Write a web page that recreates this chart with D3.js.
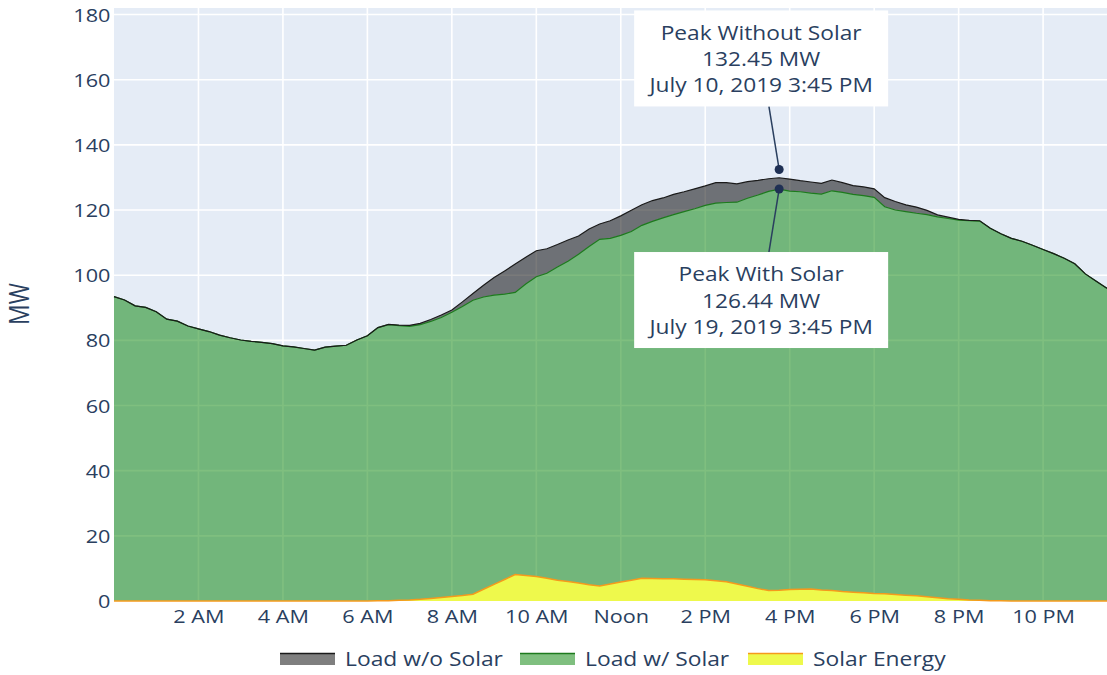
<!DOCTYPE html>
<html>
<head>
<meta charset="utf-8">
<script src="https://cdn.jsdelivr.net/npm/d3@7"></script>
<style>
  body{margin:0;background:#fff;}
  svg{display:block;font-family:"Open Sans",sans-serif;}
</style>
</head>
<body>
<svg id="chart" width="1107" height="675"></svg>
<script>
// 15 minute readings, 0:00 .. 23:45
const hours = d3.range(96).map(i => i / 4);

const loadNoSolar = [
  93.4, 92.4, 90.6, 90.1, 88.8, 86.5, 85.9, 84.4,
  83.5, 82.7, 81.6, 80.8, 80.1, 79.7, 79.4, 79.0,
  78.3, 78.0, 77.5, 77.0, 77.9, 78.2, 78.5, 80.1,
  81.4, 83.9, 84.9, 84.7, 84.6, 85.2, 86.4, 87.8,
  89.3, 91.8, 94.4, 96.9, 99.3, 101.3, 103.4, 105.5,
  107.5, 108.1, 109.4, 110.8, 112.0, 114.2, 115.7, 116.7,
  118.2, 119.9, 121.6, 122.9, 123.7, 124.8, 125.6, 126.5,
  127.4, 128.4, 128.4, 128.0, 128.7, 129.1, 129.6, 129.9,
  129.5, 129.0, 128.6, 128.2, 129.2, 128.4, 127.5, 127.1,
  126.5, 123.8, 122.6, 121.6, 120.9, 119.9, 118.5, 117.8,
  117.1, 116.8, 116.7, 114.4, 112.7, 111.3, 110.4, 109.2,
  107.9, 106.6, 105.2, 103.5, 100.4, 98.2, 96.1, 94.5
];

const loadWithSolar = [
  93.4, 92.4, 90.6, 90.1, 88.8, 86.5, 85.9, 84.4,
  83.5, 82.7, 81.6, 80.8, 80.1, 79.7, 79.4, 79.0,
  78.3, 78.0, 77.5, 77.0, 77.9, 78.2, 78.5, 80.1,
  81.4, 83.9, 84.8, 84.5, 84.3, 84.8, 85.8, 87.0,
  88.6, 90.4, 92.3, 93.3, 93.9, 94.2, 94.7, 97.3,
  99.5, 100.6, 102.5, 104.3, 106.4, 108.8, 111.0, 111.3,
  112.2, 113.4, 115.3, 116.5, 117.6, 118.6, 119.5, 120.4,
  121.4, 122.1, 122.3, 122.4, 123.6, 124.6, 125.7, 126.4,
  125.8, 125.6, 125.2, 124.9, 125.9, 125.4, 124.8, 124.4,
  123.9, 121.0, 120.0, 119.5, 119.0, 118.6, 117.9, 117.4,
  116.9, 116.7, 116.6, 114.4, 112.7, 111.3, 110.4, 109.2,
  107.9, 106.6, 105.2, 103.5, 100.4, 98.2, 96.1, 94.5
];

const solarEnergy = [
  0, 0, 0, 0, 0, 0, 0, 0,
  0, 0, 0, 0, 0, 0, 0, 0,
  0, 0, 0, 0, 0, 0, 0, 0,
  0, 0.05, 0.1, 0.2, 0.3, 0.5, 0.8, 1.1,
  1.4, 1.7, 2.1, 3.6, 5.1, 6.6, 8.1, 7.8,
  7.5, 7.0, 6.4, 6.0, 5.5, 5.0, 4.6, 5.2,
  5.8, 6.4, 7.0, 6.9, 6.8, 6.8, 6.7, 6.6,
  6.5, 6.2, 5.9, 5.2, 4.5, 3.8, 3.2, 3.3,
  3.5, 3.6, 3.7, 3.4, 3.2, 2.9, 2.7, 2.5,
  2.3, 2.2, 2.0, 1.8, 1.6, 1.3, 1.0, 0.7,
  0.5, 0.3, 0.2, 0.1, 0.05, 0, 0, 0,
  0, 0, 0, 0, 0, 0, 0, 0
];

const xTickHours = [2, 4, 6, 8, 10, 12, 14, 16, 18, 20, 22];
const xTickLabels = ["2 AM", "4 AM", "6 AM", "8 AM", "10 AM", "Noon", "2 PM", "4 PM", "6 PM", "8 PM", "10 PM"];
const yTicks = [0, 20, 40, 60, 80, 100, 120, 140, 160, 180];

const peakHours = [15.75, 15.75];
const peakValues = [132.45, 126.44];
const peakTitles = ["Peak Without Solar", "Peak With Solar"];
const peakDates = ["July 10, 2019 3:45 PM", "July 19, 2019 3:45 PM"];

const seriesNames = ["Load w/o Solar", "Load w/ Solar", "Solar Energy"];

const rows = hours.map((h, i) => ({h: h, wo: loadNoSolar[i], w: loadWithSolar[i], s: solarEnergy[i]}));

const textColor = "#2a3f5f";
const stretch = 1.165; // the picture's text runs wide
const svg = d3.select("#chart");

const plot = {left: 114, right: 1117, top: 8, bottom: 601};

const x = d3.scaleLinear().domain([0, 23.75]).range([plot.left, plot.right]);
const y = d3.scaleLinear().domain([0, 182]).range([plot.bottom, plot.top]);

svg.append("rect").attr("x", plot.left).attr("y", plot.top)
  .attr("width", plot.right - plot.left).attr("height", plot.bottom - plot.top)
  .attr("fill", "#e5ecf6");

// grid
svg.append("g").selectAll("line").data(yTicks).join("line")
  .attr("x1", plot.left).attr("x2", plot.right)
  .attr("y1", d => y(d)).attr("y2", d => y(d))
  .attr("stroke", "#fff").attr("stroke-width", d => d == 0 ? 2 : 1.6);
svg.append("g").selectAll("line").data(xTickHours).join("line")
  .attr("y1", plot.top).attr("y2", plot.bottom)
  .attr("x1", d => x(d)).attr("x2", d => x(d))
  .attr("stroke", "#fff").attr("stroke-width", 1.6);

// areas
const gapArea = d3.area().x(d => x(d.h)).y0(d => y(d.w)).y1(d => y(d.wo));
const loadArea = d3.area().x(d => x(d.h)).y0(y(0)).y1(d => y(d.w));
const solarArea = d3.area().x(d => x(d.h)).y0(y(0)).y1(d => y(d.s));

svg.append("path").datum(rows).attr("d", gapArea).attr("fill", "rgba(0,0,0,0.52)");
svg.append("path").datum(rows).attr("d", loadArea).attr("fill", "rgba(0,128,0,0.5)");
svg.append("path").datum(rows).attr("d", solarArea).attr("fill", "#eef94c");

svg.append("path").datum(rows).attr("d", d3.line().x(d => x(d.h)).y(d => y(d.w)))
  .attr("fill", "none").attr("stroke", "#1d7a1d").attr("stroke-width", 1.2);
svg.append("path").datum(rows).attr("d", d3.line().x(d => x(d.h)).y(d => y(d.wo)))
  .attr("fill", "none").attr("stroke", "#1a1a1a").attr("stroke-width", 1.2);
svg.append("path").datum(rows).attr("d", d3.line().x(d => x(d.h)).y(d => y(d.s)))
  .attr("fill", "none").attr("stroke", "#f59a1c").attr("stroke-width", 1.5);

// axes
const xAxis = d3.axisBottom(x).tickValues(xTickHours).tickFormat((d, i) => xTickLabels[i]).tickSize(0);
const gx = svg.append("g").attr("transform", "translate(0," + plot.bottom + ")").call(xAxis);
gx.selectAll("text").attr("y", 22).attr("dy", null);
const yAxis = d3.axisLeft(y).tickValues(yTicks).tickSize(0);
const gy = svg.append("g").attr("transform", "translate(" + plot.left + ",0)").call(yAxis);
gy.selectAll("text").attr("x", -3.5 / stretch).attr("dy", 6.6);
[gx, gy].forEach(g => {
  g.select(".domain").remove();
  g.selectAll("text").attr("fill", textColor).attr("font-size", 18.6)
    .attr("font-family", "Open Sans").attr("transform", "scale(" + stretch + ",1)");
});
gx.selectAll(".tick text").attr("x", 0);

svg.append("text").attr("transform", "translate(29.3,304) scale(" + stretch + ",1) rotate(-90)")
  .attr("text-anchor", "middle").attr("fill", textColor).attr("font-size", 23).text("MW");

// peak annotations
const boxW = 254, boxH = 96;
const offsets = [[-18, -111], [-18, 111]];
peakValues.forEach((v, i) => {
  const px = x(peakHours[i]), py = y(v);
  const cx = px + offsets[i][0], cy = py + offsets[i][1];
  const edgeY = i == 0 ? cy + boxH / 2 : cy - boxH / 2;
  const t = (edgeY - py) / (cy - py);
  svg.append("line").attr("x1", px).attr("y1", py)
    .attr("x2", px + (cx - px) * t).attr("y2", edgeY)
    .attr("stroke", textColor).attr("stroke-width", 1.5);
  svg.append("rect").attr("x", cx - boxW / 2).attr("y", cy - boxH / 2)
    .attr("width", boxW).attr("height", boxH).attr("fill", "#fff");
  const lines = [peakTitles[i], d3.format(".2f")(v) + " MW", peakDates[i]];
  svg.append("g").selectAll("text").data(lines).join("text")
    .attr("transform", (d, k) => "translate(" + cx + "," + (cy + (k - 1) * 26.3 + 7.5) + ") scale(" + stretch + ",1)")
    .attr("text-anchor", "middle").attr("fill", textColor).attr("font-size", 19.5).text(d => d);
  svg.append("circle").attr("cx", px).attr("cy", py).attr("r", 4.5).attr("fill", "#1f3054");
});

// legend
const legendFills = ["rgba(0,0,0,0.5)", "rgba(0,128,0,0.5)", "#eef94c"];
const legendLines = ["#1a1a1a", "#1d7a1d", "#f59a1c"];
const legendX = [280, 520, 748];
const lg = svg.append("g");
seriesNames.forEach((name, i) => {
  lg.append("rect").attr("x", legendX[i]).attr("y", 653).attr("width", 55).attr("height", 12).attr("fill", legendFills[i]);
  lg.append("line").attr("x1", legendX[i]).attr("x2", legendX[i] + 55).attr("y1", 653.5).attr("y2", 653.5)
    .attr("stroke", legendLines[i]).attr("stroke-width", 1.5);
  lg.append("text").attr("transform", "translate(" + (legendX[i] + 65) + ",665.5) scale(" + stretch + ",1)")
    .attr("fill", textColor).attr("font-size", 19.6).text(name);
});
</script>
</body>
</html>
